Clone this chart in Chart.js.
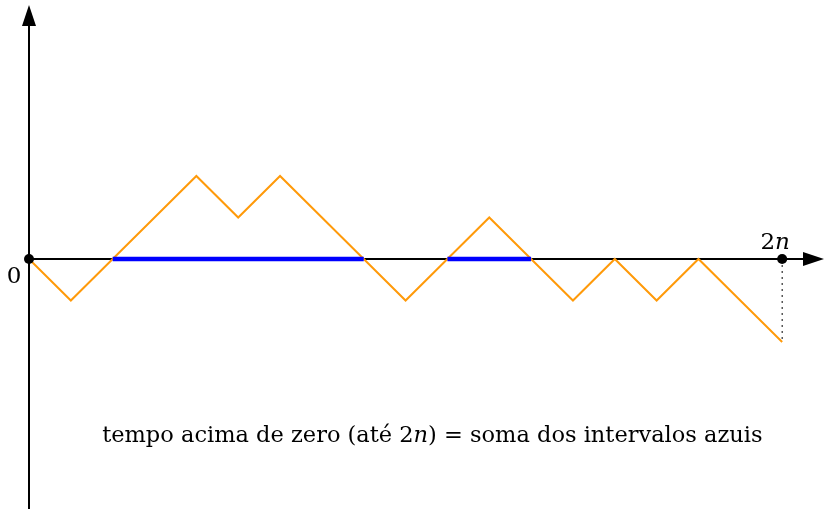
<!DOCTYPE html>
<html>
<head>
<meta charset="utf-8">
<script src="https://cdn.jsdelivr.net/npm/chart.js@4/dist/chart.umd.min.js"></script>
<style>
html,body{margin:0;padding:0;background:#fff;}
canvas{display:block;}
</style>
</head>
<body>
<canvas id="c" width="825" height="509"></canvas>
<script>
// Data
const steps = [0,1,2,3,4,5,6,7,8,9,10,11,12,13,14,15,16,17,18];
const walk  = [0,-1,0,1,2,1,2,1,0,-1,0,1,0,-1,0,-1,0,-1,-2];
const blueIntervals = [[2,8],[10,12]];
const endStep = 18;
const labelZero = '0';
const caption = ['tempo acima de zero (até 2', 'n', ') = soma dos intervalos azuis'];

const datasets = [];
datasets.push({
  data: steps.map((s,i)=>({x:s,y:walk[i]})),
  borderColor:'#FF9A0A', borderWidth:2, pointRadius:0, order:3, clip:false
});
blueIntervals.forEach(([a,b])=>{
  datasets.push({data:[{x:a,y:0},{x:b,y:0}], borderColor:'#0000FF', borderWidth:4.5, pointRadius:0, order:2, borderCapStyle:'butt', clip:false});
});
datasets.push({
  data:[{x:endStep,y:0},{x:endStep,y:walk[walk.length-1]}],
  borderColor:'#000', borderWidth:1, borderDash:[2,4], pointRadius:0, order:4, clip:false
});
datasets.push({
  data:[{x:0,y:0},{x:endStep,y:0}], showLine:false, clip:false,
  pointRadius:5, pointBackgroundColor:'#000', pointBorderWidth:0, order:1
});

const axesPlugin = {
  id:'axes',
  beforeDatasetsDraw(chart){
    const ctx = chart.ctx, xs = chart.scales.x, ys = chart.scales.y;
    const x0 = xs.getPixelForValue(0), y0 = ys.getPixelForValue(0);
    ctx.save();
    ctx.strokeStyle='#000'; ctx.fillStyle='#000'; ctx.lineWidth=2;
    // y axis
    const yTop = ys.top, yBot = ys.bottom + 1;
    ctx.beginPath(); ctx.moveTo(x0, yBot); ctx.lineTo(x0, yTop+18); ctx.stroke();
    ctx.beginPath(); ctx.moveTo(x0, yTop); ctx.lineTo(x0-7, yTop+21); ctx.lineTo(x0+7, yTop+21); ctx.closePath(); ctx.fill();
    // x axis
    const xR = xs.right;
    ctx.beginPath(); ctx.moveTo(x0, y0); ctx.lineTo(xR-18, y0); ctx.stroke();
    ctx.beginPath(); ctx.moveTo(xR, y0); ctx.lineTo(xR-21, y0-7); ctx.lineTo(xR-21, y0+7); ctx.closePath(); ctx.fill();
    ctx.restore();
  },
  afterDatasetsDraw(chart){
    const ctx = chart.ctx, xs = chart.scales.x, ys = chart.scales.y;
    const x0 = xs.getPixelForValue(0), y0 = ys.getPixelForValue(0);
    const fam = '"DejaVu Serif"';
    ctx.save();
    ctx.fillStyle='#000';
    ctx.textBaseline='alphabetic';
    ctx.font='23px '+fam;
    ctx.textAlign='center';
    ctx.fillText(labelZero, x0-15, y0+24);
    // 2n label
    const xe = xs.getPixelForValue(endStep);
    ctx.font='23px '+fam;
    const w2 = ctx.measureText('2').width;
    ctx.font='italic 23px '+fam;
    const wn = ctx.measureText('n').width;
    let sx = xe-7 - (w2+wn)/2;
    ctx.textAlign='left';
    ctx.font='23px '+fam; ctx.fillText('2', sx, y0-10);
    ctx.font='italic 23px '+fam; ctx.fillText('n', sx+w2, y0-10);
    // caption
    const sz = 22.5;
    const fonts = [sz+'px '+fam,'italic '+sz+'px '+fam,sz+'px '+fam];
    let widths = caption.map((t,i)=>{ctx.font=fonts[i]; return ctx.measureText(t).width;});
    let total = widths.reduce((a,b)=>a+b,0);
    let cx = xs.getPixelForValue(9.64) - total/2;
    const cy = ys.getPixelForValue(-4.4);
    caption.forEach((t,i)=>{ctx.font=fonts[i]; ctx.fillText(t, cx, cy); cx+=widths[i];});
    ctx.restore();
  }
};

new Chart(document.getElementById('c'), {
  type:'line',
  data:{datasets},
  options:{
    responsive:false, animation:false,
    layout:{autoPadding:false, padding:{left:29,right:1,top:5,bottom:1}},
    plugins:{legend:{display:false},tooltip:{enabled:false}},
    elements:{line:{tension:0}},
    scales:{
      x:{type:'linear',min:0,max:19,display:false},
      y:{type:'linear',min:-6,max:6.12,display:false}
    }
  },
  plugins:[axesPlugin]
});
</script>
</body>
</html>
